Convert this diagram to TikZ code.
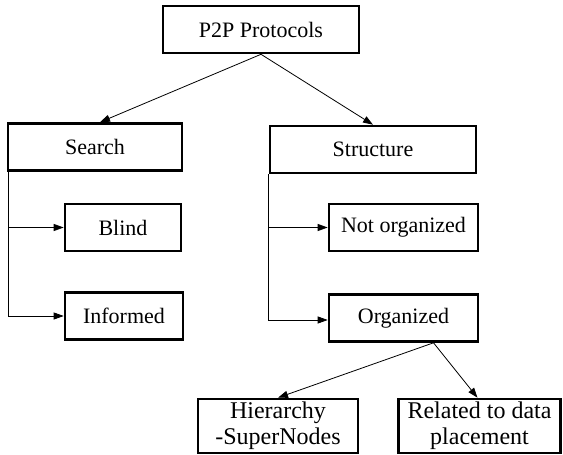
\documentclass[tikz,border=0pt]{standalone}
\usepackage{fontspec}
\setmainfont{Liberation Serif}
\newfontfamily\boxfont{Liberation Serif}
\usetikzlibrary{positioning, arrows.meta, calc}

\begin{document}
\begin{tikzpicture}[
    x=1pt, y=-1pt,
    box/.style={
        rectangle, draw=black, line width=2.6pt,
        inner sep=0pt, minimum height=47pt,
        align=center, font=\boxfont\fontsize{22}{25}\selectfont, text=black
    },
    leafbox/.style={
        box, minimum height=54pt,
        font=\boxfont\fontsize{24}{26}\selectfont
    },
    link/.style={
        -{Triangle[length=10pt, width=7pt]},
        line width=0.8pt, color=black
    }
]
\useasboundingbox (0,0) rectangle (563,455);

% --- nodes ---
\node[box, minimum width=196pt] (p2p)      at (261,29.5)  {P2P Protocols};
\node[box, minimum width=174pt] (search)   at (95,147)    {Search};
\node[box, minimum width=206pt] (struct)   at (373,149.5) {Structure};
\node[box, minimum width=116pt] (blind)    at (123,227.5) {Blind};
\node[box, minimum width=118pt] (informed) at (124,316)   {Informed};
\node[box, minimum width=149pt] (notorg)   at (403.5,227.5) {Not organized};
\node[box, minimum width=149pt] (org)      at (403.5,318) {Organized};
\node[leafbox, minimum width=160pt] (hier)    at (278,426) {Hierarchy\\-SuperNodes};
\node[leafbox, minimum width=162pt] (related) at (479.5,426) {Related to data\\placement};

% --- root -> search, structure ---
\draw[link] (p2p.south) -- ([xshift=5pt]search.north);
\draw[link] (p2p.south) -- (struct.north);

% --- search branch (left rail) ---
\draw[link] ([xshift=1.5pt]search.south west) |- (blind.west);
\draw[link] ([xshift=1.5pt]search.south west) |- (informed.west);

% --- structure branch (left rail) ---
\draw[link] (struct.south west) |- (notorg.west);
\draw[link] (struct.south west) |- ([yshift=-2pt]org.west);

% --- organized -> leaves ---
\draw[link] ([xshift=30pt]org.south) -- (hier.north);
\draw[link] ([xshift=30pt]org.south) -- ([xshift=-2pt]related.north);

\end{tikzpicture}
\end{document}
